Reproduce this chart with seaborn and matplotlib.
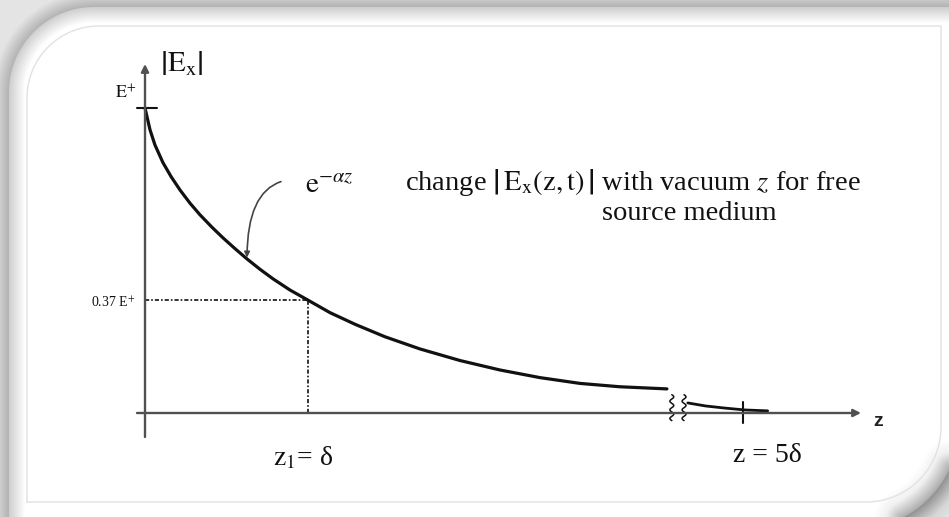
import numpy as np
import pandas as pd
import matplotlib
matplotlib.use("Agg")
import matplotlib.pyplot as plt
from matplotlib.path import Path
from matplotlib.patches import PathPatch
import seaborn as sns

# |E_x| / E+ against depth z / delta, decaying part before the axis break
z_main = [0.0, 0.031, 0.061, 0.110, 0.160, 0.215, 0.276, 0.337, 0.411,
          0.479, 0.552, 0.626, 0.706, 0.785, 0.890, 1.0, 1.135, 1.288,
          1.472, 1.687, 1.933, 2.178, 2.423, 2.669, 2.914, 3.202]
e_main = [1.0, 0.928, 0.879, 0.821, 0.775, 0.731, 0.688, 0.650, 0.609,
          0.574, 0.539, 0.505, 0.471, 0.440, 0.403, 0.37, 0.329, 0.291,
          0.250, 0.210, 0.172, 0.141, 0.116, 0.097, 0.086, 0.079]
# tail after the break, around z = 5 delta
z_tail = [4.66, 4.77, 4.89, 5.01, 5.15]
e_tail = [0.033, 0.023, 0.016, 0.010, 0.007]

skin_depth = 1.0      # z1 = delta
skin_level = 0.37     # 0.37 E+
far_depth = 5.0       # z = 5 delta
break_shift = 1.33    # depth hidden by the axis break

sns.set_style("white")
plt.rcParams["font.family"] = ["Liberation Serif", "DejaVu Serif"]
plt.rcParams["mathtext.fontset"] = "stix"

W, H = 949, 517
fig = plt.figure(figsize=(W / 100, H / 100), dpi=100)
fig.patch.set_facecolor("#e4e4e4")

# ---- card background with soft shadow (pixel coordinates) ----
bg = fig.add_axes([0, 0, 1, 1])
bg.set_xlim(0, W)
bg.set_ylim(H, 0)
bg.axis("off")


def arc(cx, cy, r, t0, t1, n=40):
    t = np.radians(np.linspace(t0, t1, n))
    return np.column_stack([cx + r * np.cos(t), cy + r * np.sin(t)])


def card_outline(left, top, right, bottom, r_tl, r_br):
    pts = [np.array([[left, bottom]])]
    pts.append(arc(left + r_tl, top + r_tl, r_tl, 180, 270))
    pts.append(np.array([[right, top]]))
    pts.append(arc(right - r_br, bottom - r_br, r_br, 0, 90))
    pts.append(np.array([[left, bottom]]))
    return np.vstack(pts)


outer = card_outline(9, 7, 960, 530, 85, 107)
for i in range(16, 0, -1):
    bg.plot(outer[:, 0], outer[:, 1], color="black", alpha=0.011,
            lw=i * 1.4, solid_joinstyle="round")
# slightly deeper shadow round the lower right corner
corner = arc(960 - 107, 530 - 107, 107, -10, 100)
for i in range(16, 0, -1):
    bg.plot(corner[:, 0], corner[:, 1], color="black", alpha=0.006,
            lw=i * 2.5, solid_capstyle="round")
bg.add_patch(PathPatch(Path(outer), facecolor="white", edgecolor="none"))

inner = card_outline(27, 26, 941, 502, 72, 75)
bg.plot(inner[:, 0], inner[:, 1], color="#e2e2e2", lw=1.0)

# ---- chart axes in (z / delta, |E| / E+) units ----
x0, sx = 145, 163      # pixel of z = 0 and pixels per delta
y0, sy = 413, 305      # pixel of |E| = 0 and pixels per E+
left_px, right_px, top_px, bot_px = 40, 930, 30, 490
ax = fig.add_axes([left_px / W, (H - bot_px) / H,
                   (right_px - left_px) / W, (bot_px - top_px) / H])
ax.set_xlim((left_px - x0) / sx, (right_px - x0) / sx)
ax.set_ylim((y0 - bot_px) / sy, (y0 - top_px) / sy)
ax.axis("off")
ax.patch.set_alpha(0)


def px(x, y):
    return (x - x0) / sx, (y0 - y) / sy


axis_col = "#505050"
ink = "#111111"

# axes with arrow heads
ax.annotate("", xy=px(145, 64), xytext=px(145, 437),
            arrowprops=dict(arrowstyle="-|>", color=axis_col, lw=1.7,
                            mutation_scale=11, shrinkA=0, shrinkB=0))
ax.annotate("", xy=px(861, 413), xytext=px(137, 413),
            arrowprops=dict(arrowstyle="-|>", color=axis_col, lw=1.7,
                            mutation_scale=11, shrinkA=0, shrinkB=0))

# decay curve
main_df = pd.DataFrame({"z": z_main, "E": e_main})
tail_df = pd.DataFrame({"z": np.array(z_tail) - break_shift, "E": e_tail})
sns.lineplot(data=main_df, x="z", y="E", ax=ax, color=ink, lw=2.3,
             sort=False, estimator=None, solid_joinstyle="round")
sns.lineplot(data=tail_df, x="z", y="E", ax=ax, color=ink, lw=2.0,
             sort=False, estimator=None, solid_joinstyle="round")

# dotted guides to the 1/e point
ax.plot([0, skin_depth], [skin_level, skin_level], color=ink, lw=1.2,
        ls=(0, (2.5, 1.2, 1, 1.2)))
ax.plot([skin_depth, skin_depth], [0, skin_level], color=ink, lw=1.2,
        ls=(0, (2.5, 1.2, 1, 1.2)))

# tick marks at E+ and at z = 5 delta
ax.plot([-0.05, 0.075], [1.0, 1.0], color=ink, lw=1.5)
far_x = far_depth - break_shift
ax.plot([far_x, far_x], [0.036, -0.033], color=ink, lw=1.5)

# axis break marks
zb = z_main[-1] + 0.03
tt = np.linspace(0, 1, 60)
for k in range(2):
    xb = zb + k * 0.075 + 0.012 * np.sin(tt * 6 * np.pi)
    yb = 0.06 - tt * 0.085
    ax.plot(xb, yb, color=ink, lw=1.1)

# labels
ax.text(*px(182, 63), r"$\left|\mathrm{E}_\mathrm{x}\right|$", fontsize=21,
        ha="center", va="center", color=ink)
ax.text(*px(136, 93), r"$\mathrm{E}^{+}$", fontsize=13,
        ha="right", va="center", color=ink)
ax.text(-0.06, px(0, 303)[1], r"0.37 E$^{+}$", fontsize=10,
        ha="right", va="center", color=ink)
ax.text(skin_depth - 0.03, px(0, 458)[1], r"$\mathrm{z}_1$= δ", fontsize=20,
        ha="center", va="center", color=ink)
ax.text(far_x + 0.15, px(0, 456)[1], "z = 5δ", fontsize=20,
        ha="center", va="center", color=ink)
ax.text(*px(878, 421), "z", fontsize=14, ha="center", va="center",
        color="#222222", fontweight="bold",
        family=["Liberation Sans", "DejaVu Sans"])

# exponential annotation
ax.annotate(r"$\mathrm{e}^{-\alpha z}$", xy=(z_main[11], e_main[11]),
            xytext=px(305, 186), fontsize=21, ha="left", va="center",
            color=ink,
            arrowprops=dict(arrowstyle="-|>", color="#444444", lw=1.2,
                            mutation_scale=8, shrinkA=15, shrinkB=1,
                            connectionstyle="angle3,angleA=-20,angleB=90"))

ax.text(*px(405, 182),
        r"change $\left|\,\mathrm{E_x(z,t)}\,\right|$ with vacuum $z$ for free",
        fontsize=20.5, ha="left", va="center", color=ink)
ax.text(*px(602, 213), "source medium", fontsize=20.5, ha="left",
        va="center", color=ink)

fig.savefig("out.png", dpi=100)
